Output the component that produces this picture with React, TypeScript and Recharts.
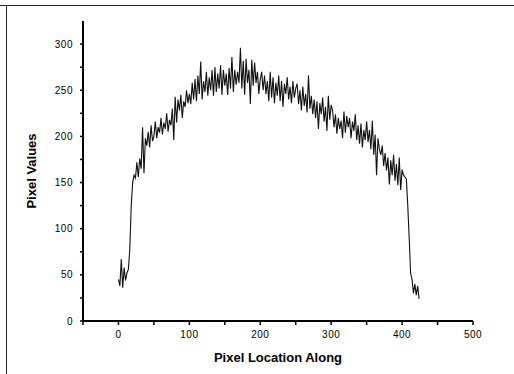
import React from "react";
import { LineChart, Line, XAxis, YAxis, Label } from "recharts";

// pixel values sampled every 2 pixels along the profile
const STEP = 2;
const pixelValues = [
  45, 38, 67, 36, 58, 44, 52,
  56, 78, 125, 150, 158, 155,
  172, 156, 176, 165, 210, 160, 198,
  190, 205, 188, 212, 195, 200, 216, 198, 210, 204, 220, 202, 215, 208, 225, 205, 218, 212, 230, 196, 243,
  215, 240, 228, 245, 220, 238, 232, 250, 236, 246,
  235, 258, 240, 262, 238, 266, 246, 281, 240, 260, 248, 270, 244, 264, 250, 272, 244, 275, 248, 268, 252, 277, 245, 272, 255,
  268, 245, 274, 252, 286, 248, 272, 256, 270, 258, 296, 252, 282, 245, 284, 258, 272, 235, 283, 255, 280, 258, 270, 246, 262,
  270, 250, 266, 246, 260, 238, 270, 242, 264, 236, 258, 244, 266, 238, 260, 232, 257, 246, 264, 240, 254, 236, 260, 242, 252,
  257, 235, 250, 228, 254, 233, 246, 226, 266, 230, 244, 224, 240, 220, 238, 208, 236, 224, 242, 216, 232, 206, 244, 218, 234,
  228, 210, 224, 203, 220, 208, 217, 198, 227, 204, 222, 210, 220, 198, 216, 206, 224, 196, 212, 192, 214, 188, 207, 196, 216,
  194, 207, 186, 217, 180, 202, 158, 198, 186, 180, 190, 168, 182, 163, 177, 148, 174, 158, 180, 152, 170, 147, 177, 142, 164,
  158, 156, 154, 125, 90, 52, 45, 30, 40, 28, 38, 24,
];

const xTicks = [-50, 0, 50, 100, 150, 200, 250, 300, 350, 400, 450, 500];
const yTicks = [0, 25, 50, 75, 100, 125, 150, 175, 200, 225, 250, 275, 300];

const data = pixelValues.map((v, i) => ({ loc: i * STEP, value: v }));

const tickStyle = { fontSize: 10, fill: "#000", letterSpacing: 0.5, fontFamily: "Liberation Sans, Arial, sans-serif" };
const titleStyle = { fontSize: 13, fontWeight: "bold", fill: "#000", fontFamily: "Liberation Sans, Arial, sans-serif" };

export default function App() {
  return (
    <div style={{ position: "absolute", left: 0, top: 0, width: 514, height: 374, background: "#fff" }}>
      <div style={{ position: "absolute", left: 0, top: 5, width: 514, height: 1, background: "#222" }} />
      <div style={{ position: "absolute", left: 6, top: 5, width: 1, height: 369, background: "#222" }} />
      <LineChart
        width={514}
        height={374}
        data={data}
        margin={{ top: 21, right: 41, bottom: 0, left: 0 }}
      >
        <XAxis
          dataKey="loc"
          type="number"
          domain={[-50, 500]}
          ticks={xTicks}
          interval={0}
          tickFormatter={(v: number) => (v >= 0 && v % 100 === 0 ? String(v) : "")}
          tick={tickStyle}
          tickSize={4}
          tickMargin={6}
          height={53}
          axisLine={{ stroke: "#000", strokeWidth: 2 }}
          tickLine={{ stroke: "#000", strokeWidth: 1.5 }}
        >
          <Label value="Pixel Location Along" position="insideBottom" offset={12} style={titleStyle} />
        </XAxis>
        <YAxis
          type="number"
          domain={[0, 325]}
          ticks={yTicks}
          interval={0}
          tickFormatter={(v: number) => (v % 50 === 0 ? String(v) : "")}
          tick={tickStyle}
          tickSize={3}
          tickMargin={7}
          width={83}
          axisLine={{ stroke: "#000", strokeWidth: 2 }}
          tickLine={{ stroke: "#000", strokeWidth: 1.5 }}
        >
          <Label value="Pixel Values" angle={-90} position="insideLeft" offset={31} style={{ ...titleStyle, textAnchor: "middle" }} />
        </YAxis>
        <Line
          type="linear"
          dataKey="value"
          stroke="#111"
          strokeWidth={1.1}
          dot={false}
          isAnimationActive={false}
        />
      </LineChart>
    </div>
  );
}
